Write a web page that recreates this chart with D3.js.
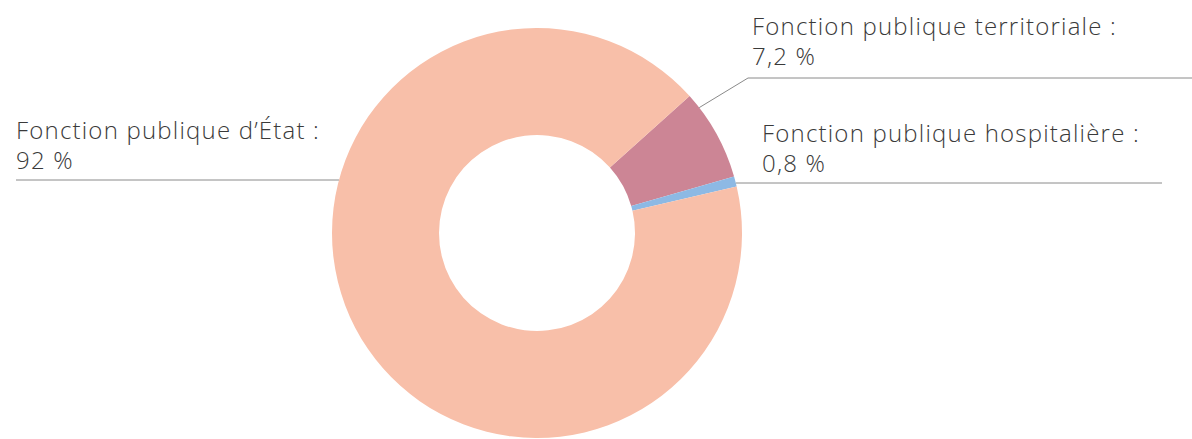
<!DOCTYPE html>
<html>
<head>
<meta charset="utf-8">
<script src="https://cdn.jsdelivr.net/npm/d3@7"></script>
<style>
  body { margin: 0; background: #fff; }
  text { font-family: "Open Sans", Lato, sans-serif; font-weight: 300; fill: #3a3a3a; letter-spacing: 1.2px; }
</style>
</head>
<body>
<script>
var categories = ['Fonction publique territoriale', 'Fonction publique hospitalière', 'Fonction publique d’État']
var values = [7.2, 0.8, 92]
var valueLabels = ['7,2 %', '0,8 %', '92 %']
var colors = ['#cc8595', '#8db9e4', '#f8bfa9']

var wdt = 1192, hgt = 439
var cx = 537, cy = 233, outer = 205, inner = 98
var startDeg = 48.1

var svg = d3.select(document.body).append('svg')
  .attr('width', wdt)
  .attr('height', hgt)

var pie = d3.pie().sort(null).value(function(d) { return d })
  .startAngle(startDeg * Math.PI / 180)
  .endAngle(startDeg * Math.PI / 180 + 2 * Math.PI)
var arc = d3.arc().innerRadius(inner).outerRadius(outer)

var g = svg.append('g').attr('transform', 'translate(' + cx + ',' + cy + ')')
g.selectAll('path').data(pie(values)).enter().append('path')
  .attr('d', arc)
  .attr('fill', function(d, i) { return colors[i] })

// label layout: text position and leader line
var layout = [
  { tx: 752, ty: 35, lineY: 78, lineTo: 1192, angle: 52.3, elbowX: 748 },
  { tx: 762, ty: 142, lineY: 183, lineTo: 1162, side: 'right' },
  { tx: 16, ty: 139, lineY: 180, lineTo: 16, side: 'left' }
]

function edgeX(y, side) {
  var dy = y - cy
  var dx = Math.sqrt(outer * outer - dy * dy)
  return side === 'left' ? cx - dx : cx + dx
}

layout.forEach(function(l, i) {
  var pts
  if (l.angle !== undefined) {
    var a = l.angle * Math.PI / 180
    var sx = cx + outer * Math.sin(a), sy = cy - outer * Math.cos(a)
    pts = [[sx, sy], [l.elbowX, l.lineY], [l.lineTo, l.lineY]]
  } else {
    pts = [[edgeX(l.lineY, l.side), l.lineY], [l.lineTo, l.lineY]]
  }
  svg.append('path')
    .attr('d', d3.line()(pts))
    .attr('fill', 'none')
    .attr('stroke', '#8a8a8a')
    .attr('stroke-width', 1)

  var t = svg.append('text').attr('x', l.tx).attr('y', l.ty).attr('font-size', 24)
  t.append('tspan').attr('x', l.tx).text(categories[i] + ' :')
  t.append('tspan').attr('x', l.tx).attr('dy', 30).text(valueLabels[i])
})
</script>
</body>
</html>
